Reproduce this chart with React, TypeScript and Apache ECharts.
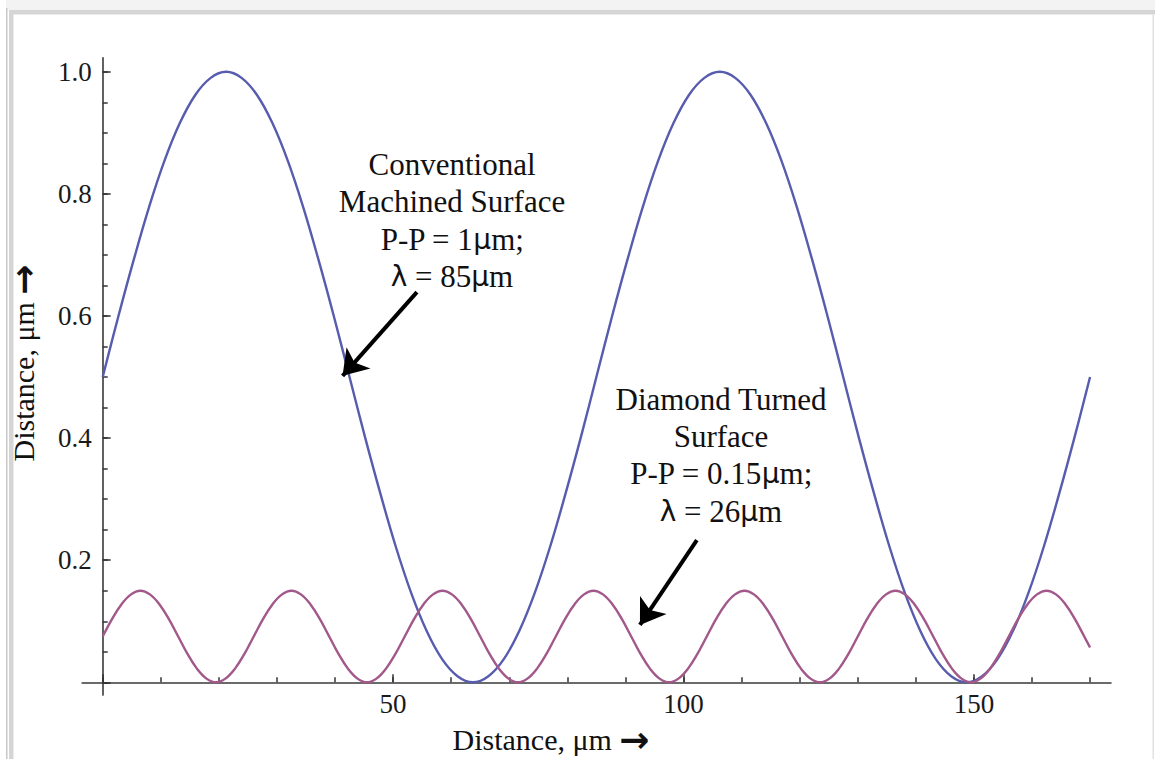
import React, { useEffect, useRef } from "react";
import * as echarts from "echarts";

// ---- data ----
// Conventional machined surface: sampled every 85/32 µm from 0 to 170 µm
const CONV_STEP = 85 / 32;
const conventionalY = [
  0.5, 0.598, 0.691, 0.778, 0.854, 0.916, 0.962, 0.99, 1.0, 0.99, 0.962, 0.916, 0.854, 0.778, 0.691, 0.598,
  0.5, 0.402, 0.309, 0.222, 0.146, 0.084, 0.038, 0.01, 0.0, 0.01, 0.038, 0.084, 0.146, 0.222, 0.309, 0.402,
  0.5, 0.598, 0.691, 0.778, 0.854, 0.916, 0.962, 0.99, 1.0, 0.99, 0.962, 0.916, 0.854, 0.778, 0.691, 0.598,
  0.5, 0.402, 0.309, 0.222, 0.146, 0.084, 0.038, 0.01, 0.0, 0.01, 0.038, 0.084, 0.146, 0.222, 0.309, 0.402,
  0.5,
];
// Diamond turned surface: sampled every 26/16 µm, plus the end point at 170 µm
const DIAMOND_STEP = 26 / 16;
const diamondY = [
  0.075, 0.104, 0.128, 0.144, 0.15, 0.144, 0.128, 0.104, 0.075, 0.046, 0.022, 0.006, 0.0, 0.006, 0.022, 0.046,
  0.075, 0.104, 0.128, 0.144, 0.15, 0.144, 0.128, 0.104, 0.075, 0.046, 0.022, 0.006, 0.0, 0.006, 0.022, 0.046,
  0.075, 0.104, 0.128, 0.144, 0.15, 0.144, 0.128, 0.104, 0.075, 0.046, 0.022, 0.006, 0.0, 0.006, 0.022, 0.046,
  0.075, 0.104, 0.128, 0.144, 0.15, 0.144, 0.128, 0.104, 0.075, 0.046, 0.022, 0.006, 0.0, 0.006, 0.022, 0.046,
  0.075, 0.104, 0.128, 0.144, 0.15, 0.144, 0.128, 0.104, 0.075, 0.046, 0.022, 0.006, 0.0, 0.006, 0.022, 0.046,
  0.075, 0.104, 0.128, 0.144, 0.15, 0.144, 0.128, 0.104, 0.075, 0.046, 0.022, 0.006, 0.0, 0.006, 0.022, 0.046,
  0.075, 0.104, 0.128, 0.144, 0.15, 0.144, 0.128, 0.104, 0.075,
];
const diamondEnd = [170, 0.057];

// annotation arrows (data coordinates: start -> tip)
const arrowConventional = [[54.1, 0.639], [41.3, 0.502]];
const arrowDiamond = [[102.3, 0.233], [92.5, 0.094]];

// texts ({s|..} = symbol glyphs set in a sans face, {b|..} = bold arrow)
const labelConventional = "Conventional\nMachined Surface\nP-P = 1{s|μ}m;\n{s|λ} = 85{s|μ}m";
const labelDiamond = "Diamond Turned\nSurface\nP-P = 0.15{s|μ}m;\n{s|λ} = 26{s|μ}m";
const axisTitle = "Distance, μm {b|→}";

// axis ranges
const xRange = [-3.55, 173.6];
const yRange = [-0.021, 1.023];
const xMajor = { min: 0, max: 150, interval: 50 };
const xMinor = { min: 0, max: 170, interval: 10 };
const yMajor = { min: 0, max: 1, interval: 0.2 };
const yMinor = { min: 0, max: 1, interval: 0.05 };

// ---- layout ----
const W = 1155;
const H = 759;
const X0 = 102.7;
const Y0 = 682.3;
const PX = 5.808;
const PY = 610.5;
const FONT = '"Liberation Serif", "Times New Roman", serif';
const SANS = '"DejaVu Sans", "Liberation Sans", sans-serif';

function gridFor(x0: number, x1: number, y0: number, y1: number) {
  return {
    left: X0 + x0 * PX,
    width: (x1 - x0) * PX,
    top: Y0 - y1 * PY,
    height: (y1 - y0) * PY,
    containLabel: false,
    outerBoundsMode: "none",
  };
}

export default function App() {
  const ref = useRef<HTMLDivElement>(null);

  useEffect(() => {
    if (!ref.current) return;
    const chart = echarts.init(ref.current, null, { renderer: "svg" });

    const convData = conventionalY.map((y, i) => [i * CONV_STEP, y]);
    const diamData = diamondY.map((y, i) => [i * DIAMOND_STEP, y]).concat([diamondEnd]);

    const tickStyle = { color: "#333", width: 1.5 };
    const labelStyle = { fontFamily: FONT, fontSize: 27, color: "#1a1a1a" };
    const hidden = {
      axisLine: { show: false },
      axisTick: { show: false },
      axisLabel: { show: false },
      splitLine: { show: false },
    };

    const annotStyle = (text: string) => ({
      text,
      fontFamily: FONT,
      fontSize: 31,
      lineHeight: 37.3,
      fill: "#111",
      align: "center",
      verticalAlign: "top",
      rich: {
        s: { fontFamily: SANS, fontSize: 28, lineHeight: 37.3, fill: "#111" },
      },
    });
    const titleStyle = {
      text: axisTitle,
      fontFamily: FONT,
      fontSize: 30,
      fill: "#111",
      align: "center",
      verticalAlign: "middle",
      rich: {
        b: { fontFamily: '"DejaVu Sans", sans-serif', fontWeight: "bold", fontSize: 36, fill: "#111" },
      },
    };

    const option: any = {
      animation: false,
      grid: [
        gridFor(xRange[0], xRange[1], yRange[0], yRange[1]),
        gridFor(xMinor.min, xMinor.max, yMinor.min, yMinor.max),
        gridFor(xMajor.min, xMajor.max, yMajor.min, yMajor.max),
      ],
      xAxis: [
        {
          type: "value",
          gridIndex: 0,
          min: xRange[0],
          max: xRange[1],
          axisLine: { show: true, onZero: true, lineStyle: { color: "#3a3a3a", width: 1.6 } },
          axisTick: { show: false },
          axisLabel: { show: false },
          splitLine: { show: false },
        },
        {
          type: "value",
          gridIndex: 1,
          ...xMinor,
          ...hidden,
          axisTick: { show: true, inside: true, length: 5, lineStyle: tickStyle },
        },
        {
          type: "value",
          gridIndex: 2,
          ...xMajor,
          ...hidden,
          axisTick: { show: true, inside: true, length: 8, lineStyle: tickStyle },
          axisLabel: {
            show: true,
            margin: 8,
            ...labelStyle,
            formatter: (v: number) => (v === 0 ? "" : String(v)),
          },
        },
      ],
      yAxis: [
        {
          type: "value",
          gridIndex: 0,
          min: yRange[0],
          max: yRange[1],
          axisLine: { show: true, onZero: true, lineStyle: { color: "#3a3a3a", width: 1.6 } },
          axisTick: { show: false },
          axisLabel: { show: false },
          splitLine: { show: false },
        },
        {
          type: "value",
          gridIndex: 1,
          ...yMinor,
          ...hidden,
          axisTick: { show: true, inside: true, length: 5, lineStyle: tickStyle },
        },
        {
          type: "value",
          gridIndex: 2,
          ...yMajor,
          ...hidden,
          axisTick: { show: true, inside: true, length: 8, lineStyle: tickStyle },
          axisLabel: {
            show: true,
            margin: 11,
            ...labelStyle,
            formatter: (v: number) => (v === 0 ? "" : v.toFixed(1)),
          },
        },
      ],
      series: [
        {
          name: "Conventional Machined Surface",
          type: "line",
          xAxisIndex: 0,
          yAxisIndex: 0,
          data: convData,
          showSymbol: false,
          symbol: "none",
          smooth: 0.4,
          lineStyle: { color: "#575cae", width: 2.4 },
          z: 3,
          markLine: {
            silent: true,
            symbol: ["none", "arrow"],
            symbolSize: 24,
            label: { show: false },
            lineStyle: { color: "#000", width: 4, type: "solid" },
            emphasis: { disabled: true },
            data: [
              [{ coord: arrowConventional[0] }, { coord: arrowConventional[1] }],
              [{ coord: arrowDiamond[0] }, { coord: arrowDiamond[1] }],
            ],
          },
        },
        {
          name: "Diamond Turned Surface",
          type: "line",
          xAxisIndex: 0,
          yAxisIndex: 0,
          data: diamData,
          showSymbol: false,
          symbol: "none",
          smooth: 0.4,
          lineStyle: { color: "#a2588a", width: 2.4 },
          z: 4,
        },
      ],
      graphic: [
        { type: "rect", shape: { x: 6, y: 0, width: W - 6, height: 10 }, style: { fill: "#f3f3f3" }, silent: true },
        { type: "rect", shape: { x: 6, y: 8, width: 1.5, height: H - 8 }, style: { fill: "#c8c8c8" }, silent: true },
        { type: "rect", shape: { x: 9, y: 10, width: W - 9, height: 4.5 }, style: { fill: "#d5d5d5" }, silent: true },
        { type: "rect", shape: { x: 9, y: 10, width: 4.5, height: H - 10 }, style: { fill: "#d5d5d5" }, silent: true },
        { type: "rect", shape: { x: 1152.5, y: 14, width: 1.5, height: H - 14 }, style: { fill: "#e2e2e2" }, silent: true },
        { type: "text", x: 452, y: 146, silent: true, style: annotStyle(labelConventional) },
        { type: "text", x: 721, y: 380.5, silent: true, style: annotStyle(labelDiamond) },
        { type: "text", x: 551, y: 739, silent: true, style: titleStyle },
        { type: "text", x: 23, y: 363, rotation: Math.PI / 2, silent: true, style: titleStyle },
      ],
    };

    chart.setOption(option);
    return () => chart.dispose();
  }, []);

  return (
    <div
      ref={ref}
      style={{ position: "absolute", left: 0, top: 0, width: W, height: H, background: "#fff" }}
    />
  );
}
